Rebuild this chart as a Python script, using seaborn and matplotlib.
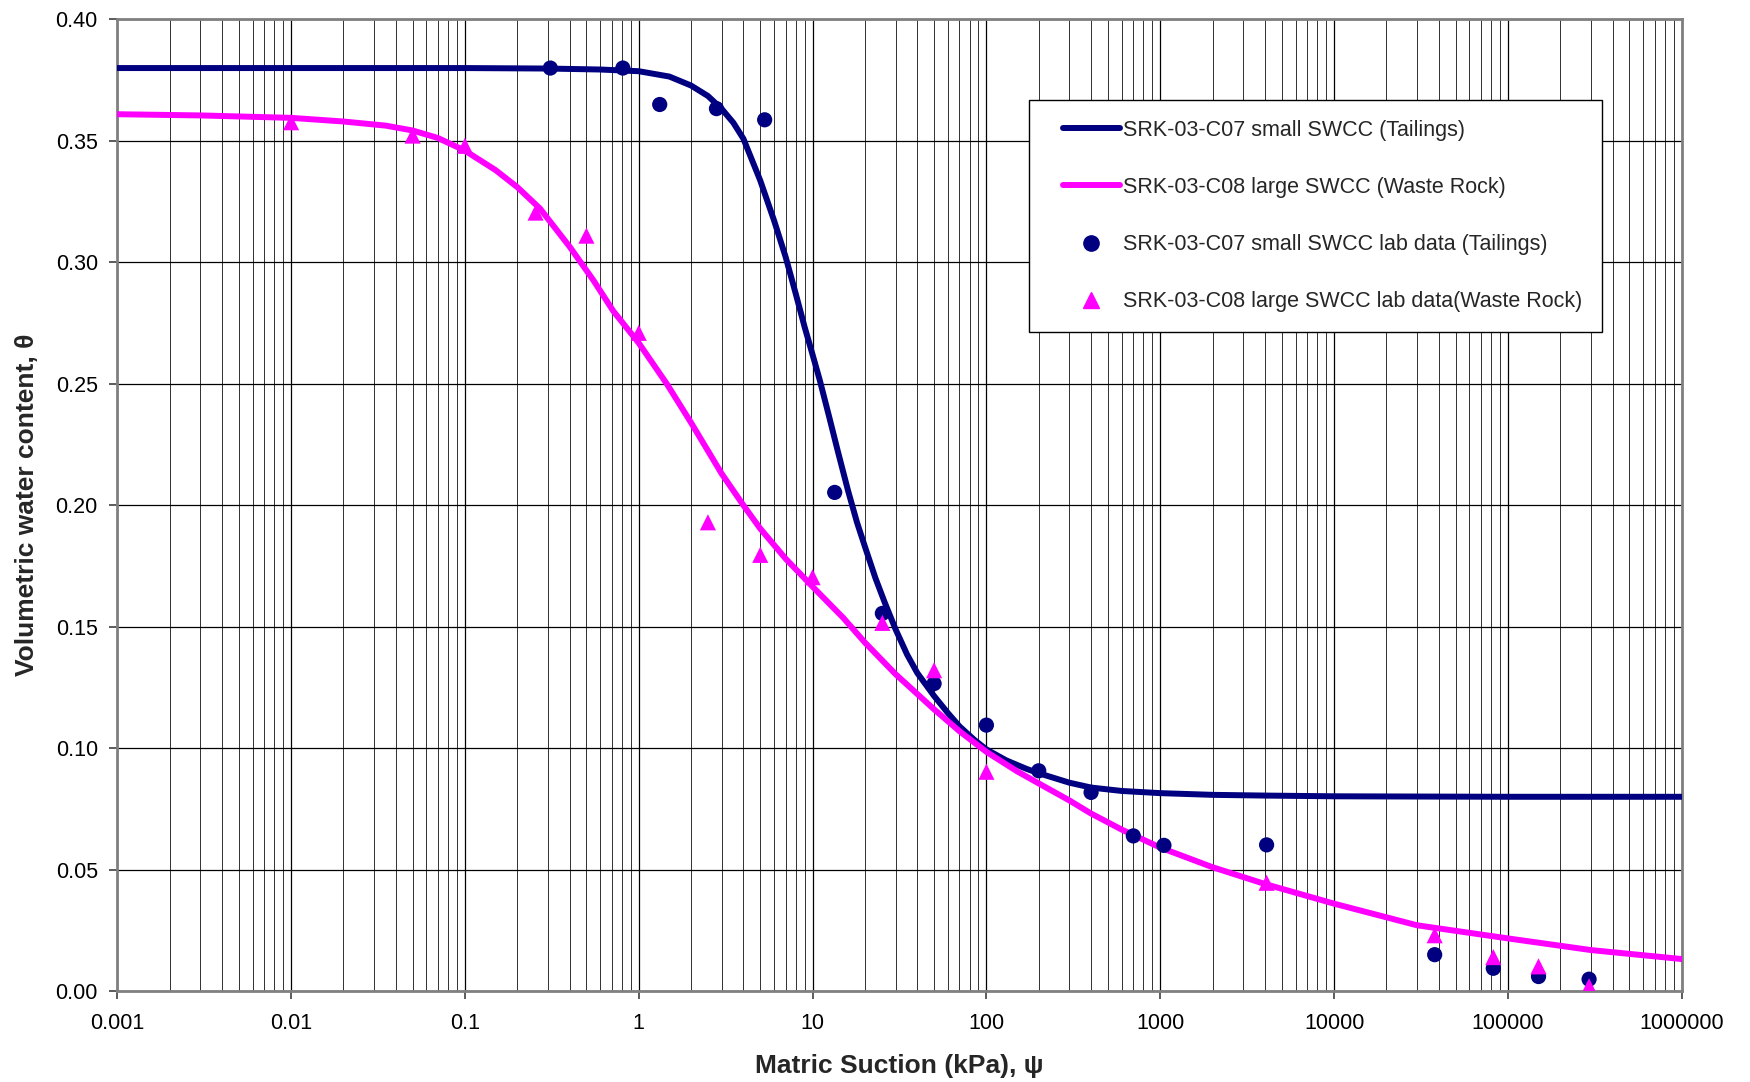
import matplotlib
matplotlib.use("Agg")
import matplotlib.pyplot as plt
import seaborn as sns
import numpy as np
import pandas as pd
from matplotlib.ticker import FixedLocator, FixedFormatter, LogLocator, NullFormatter
from matplotlib.lines import Line2D
from matplotlib.legend_handler import HandlerLine2D

# ---- data ----
tail_curve_x = [0.001, 0.01, 0.1, 0.3, 0.6, 1.0, 1.5, 2, 2.5, 3, 3.5, 4, 5, 6, 7, 8, 9, 10, 11, 12.5,
                14, 16, 18, 20, 23, 26, 30, 35, 40, 50, 60, 70, 85, 100, 130, 170, 200, 300, 400, 600,
                1000, 2000, 4000, 10000, 100000, 1000000]
tail_curve_y = [0.380, 0.380, 0.380, 0.3798, 0.3794, 0.3787, 0.3765, 0.3728, 0.3685, 0.3632, 0.3575, 0.3509,
                0.3337, 0.3173, 0.3022, 0.2871, 0.2734, 0.262, 0.2515, 0.236, 0.222, 0.206, 0.193, 0.183,
                0.170, 0.160, 0.149, 0.1385, 0.131, 0.1215, 0.1145, 0.1090, 0.1035, 0.0995, 0.0950, 0.0915,
                0.0897, 0.0858, 0.0838, 0.0824, 0.0815, 0.0808, 0.0805, 0.0802, 0.0800, 0.0800]

rock_curve_x = [0.001, 0.003, 0.01, 0.02, 0.035, 0.05, 0.07, 0.1, 0.15, 0.2, 0.27, 0.4, 0.55, 0.713, 1.0,
                1.45, 2, 3, 4, 5, 7, 10, 15, 20, 30, 50, 70, 100, 150, 200, 300, 400, 600, 1000, 2000,
                4000, 10000, 30000, 100000, 300000, 1000000]
rock_curve_y = [0.361, 0.3605, 0.3595, 0.358, 0.3563, 0.3543, 0.3512, 0.346, 0.338, 0.331, 0.3222, 0.3065,
                0.2925, 0.2800, 0.2668, 0.250, 0.234, 0.213, 0.200, 0.1904, 0.178, 0.1665, 0.1537, 0.1435,
                0.1305, 0.1160, 0.107, 0.0985, 0.0905, 0.0855, 0.0785, 0.0731, 0.0665, 0.0591, 0.051,
                0.0441, 0.036, 0.0271, 0.0217, 0.0169, 0.0132]

tail_lab_x = [0.31, 0.81, 1.32, 2.8, 5.3, 13.4, 25.2, 50, 100, 200, 400, 700, 1050, 4090, 37900, 82400, 150000, 293000]
tail_lab_y = [0.380, 0.380, 0.365, 0.3633, 0.3587, 0.2053, 0.1555, 0.1266, 0.1095, 0.0907, 0.0818, 0.0639, 0.0600, 0.0602, 0.0150, 0.0094, 0.0060, 0.0049]

rock_lab_x = [0.01, 0.05, 0.1, 0.255, 0.5, 1.0, 2.5, 5, 10, 25.2, 50, 100, 4090, 37900, 82400, 150000, 293000]
rock_lab_y = [0.3577, 0.3522, 0.348, 0.3205, 0.311, 0.271, 0.193, 0.1796, 0.1704, 0.1516, 0.1321, 0.0903, 0.0446, 0.0230, 0.0140, 0.0102, 0.0020]

x_tick_vals = [0.001, 0.01, 0.1, 1, 10, 100, 1000, 10000, 100000, 1000000]
x_tick_labels = ["0.001", "0.01", "0.1", "1", "10", "100", "1000", "10000", "100000", "1000000"]
y_tick_vals = [0.00, 0.05, 0.10, 0.15, 0.20, 0.25, 0.30, 0.35, 0.40]
y_tick_labels = ["0.00", "0.05", "0.10", "0.15", "0.20", "0.25", "0.30", "0.35", "0.40"]

labels = ["SRK-03-C07 small SWCC (Tailings)",
          "SRK-03-C08 large SWCC (Waste Rock)",
          "SRK-03-C07 small SWCC lab data (Tailings)",
          "SRK-03-C08 large SWCC lab data(Waste Rock)"]

NAVY = "#000080"
MAGENTA = "#FF00FF"

sns.set_theme(style="white")
plt.rcParams["font.family"] = ["Liberation Sans", "DejaVu Sans"]

fig = plt.figure(figsize=(17.5, 10.82), dpi=100)
ax = fig.add_axes([0.067, 0.084, 0.894, 0.898])

ax.set_xscale("log")
ax.set_xlim(0.001, 1000000)
ax.set_ylim(0, 0.40)
ax.xaxis.set_major_locator(FixedLocator(x_tick_vals))
ax.xaxis.set_major_formatter(FixedFormatter(x_tick_labels))
ax.xaxis.set_minor_locator(LogLocator(base=10, subs=np.arange(2, 10), numticks=100))
ax.xaxis.set_minor_formatter(NullFormatter())
ax.yaxis.set_major_locator(FixedLocator(y_tick_vals))
ax.yaxis.set_major_formatter(FixedFormatter(y_tick_labels))
ax.grid(True, which="major", axis="both", color="black", lw=0.9)
ax.grid(True, which="minor", axis="x", color="#303030", lw=0.7)
ax.set_axisbelow(True)

df_t = pd.DataFrame({"x": tail_curve_x, "y": tail_curve_y})
df_r = pd.DataFrame({"x": rock_curve_x, "y": rock_curve_y})
sns.lineplot(data=df_t, x="x", y="y", ax=ax, color=NAVY, lw=4.3, sort=False, zorder=3,
             solid_joinstyle="round", solid_capstyle="round")
sns.lineplot(data=df_r, x="x", y="y", ax=ax, color=MAGENTA, lw=4.3, sort=False, zorder=3,
             solid_joinstyle="round", solid_capstyle="round")

sns.scatterplot(x=tail_lab_x, y=tail_lab_y, ax=ax, marker="o", s=120, color=NAVY,
                edgecolor="none", zorder=4)
sns.scatterplot(x=rock_lab_x, y=rock_lab_y, ax=ax, marker="^", s=135, color=MAGENTA,
                edgecolor="none", zorder=5)

for side in ["left", "bottom", "top", "right"]:
    ax.spines[side].set_color("#808080")
    ax.spines[side].set_linewidth(2)
ax.tick_params(axis="both", which="major", direction="out", length=6, width=1.2,
               color="#404040", labelsize=15.5, labelcolor="black",
               bottom=True, left=True)
ax.tick_params(axis="x", which="major", pad=10)
ax.tick_params(axis="y", which="major", pad=8)
ax.tick_params(axis="x", which="minor", length=0)

ax.set_xlabel("Matric Suction (kPa), \u03c8", fontsize=19, fontweight="bold", labelpad=14)
ax.set_ylabel("Volumetric water content, \u03b8", fontsize=19, fontweight="bold", labelpad=12)

handles = [Line2D([], [], color=NAVY, lw=4.3, solid_capstyle="round"),
           Line2D([], [], color=MAGENTA, lw=4.3, solid_capstyle="round"),
           Line2D([], [], color=NAVY, marker="o", ls="none", markersize=11),
           Line2D([], [], color=MAGENTA, marker="^", ls="none", markersize=11.5)]
hmap = {h: HandlerLine2D(xpad=0.65) for h in handles}
leg = ax.legend(handles, labels, loc="upper left", bbox_to_anchor=(0.583, 0.9167),
                fontsize=15.5, frameon=True, fancybox=False, edgecolor="black",
                framealpha=1, handlelength=3.3, handletextpad=0.15,
                labelspacing=1.68, borderpad=0.9, borderaxespad=0, handler_map=hmap)
leg.get_frame().set_linewidth(1.0)

fig.savefig("out.png", dpi=100)
